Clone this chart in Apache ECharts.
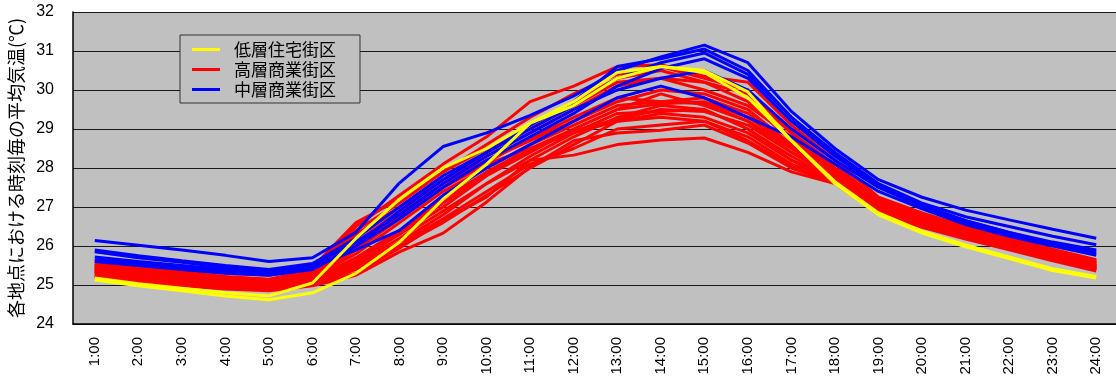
<!DOCTYPE html>
<html>
<head>
<meta charset="utf-8">
<script src="https://cdn.jsdelivr.net/npm/echarts@6/dist/echarts.min.js"></script>
<style>
  html, body { margin: 0; padding: 0; background: #fff; }
  #chart { width: 1116px; height: 381px; }
</style>
</head>
<body>
<div id="chart"></div>
<script>
// 時刻
const hours = ['1:00', '2:00', '3:00', '4:00', '5:00', '6:00', '7:00', '8:00', '9:00', '10:00', '11:00', '12:00',
  '13:00', '14:00', '15:00', '16:00', '17:00', '18:00', '19:00', '20:00', '21:00', '22:00', '23:00', '24:00'];

// 低層住宅街区
const low1 = [25.13, 24.98, 24.85, 24.72, 24.62, 24.80, 25.30, 26.10, 27.20, 28.10, 29.15, 29.60, 30.30, 30.60, 30.50, 29.95, 28.70, 27.60, 26.80, 26.33, 25.98, 25.68, 25.37, 25.18];
const low2 = [25.18, 25.03, 24.92, 24.80, 24.72, 25.05, 26.20, 27.20, 28.00, 28.50, 29.15, 29.70, 30.45, 30.60, 30.45, 29.80, 28.70, 27.65, 26.85, 26.38, 26.03, 25.72, 25.42, 25.22];

// 高層商業街区
const high1 = [25.55, 25.42, 25.32, 25.22, 25.15, 25.38, 26.50, 27.30, 28.10, 28.80, 29.70, 30.10, 30.60, 30.65, 30.35, 30.20, 29.10, 28.20, 27.25, 26.85, 26.50, 26.20, 25.92, 25.65];
const high2 = [25.60, 25.48, 25.38, 25.30, 25.25, 25.45, 26.60, 27.20, 27.90, 28.60, 29.30, 29.90, 30.40, 30.60, 30.30, 30.00, 28.90, 28.00, 27.20, 26.80, 26.45, 26.15, 25.90, 25.62];
const high3 = [25.50, 25.38, 25.28, 25.20, 25.12, 25.30, 26.30, 27.00, 27.70, 28.30, 28.90, 29.50, 30.10, 30.30, 30.20, 29.70, 28.70, 27.90, 27.10, 26.75, 26.42, 26.12, 25.85, 25.58];
const high4 = [25.45, 25.32, 25.22, 25.12, 25.05, 25.25, 26.00, 26.80, 27.60, 28.20, 28.70, 29.20, 29.70, 30.00, 29.90, 29.50, 28.60, 27.85, 27.05, 26.70, 26.38, 26.08, 25.80, 25.55];
const high5 = [25.40, 25.28, 25.18, 25.08, 25.00, 25.20, 25.80, 26.60, 27.40, 28.00, 28.60, 29.10, 29.60, 29.70, 29.65, 29.20, 28.50, 27.80, 27.00, 26.65, 26.35, 26.05, 25.78, 25.50];
const high6 = [25.35, 25.22, 25.12, 25.02, 24.95, 25.12, 25.60, 26.30, 27.00, 27.80, 28.40, 29.00, 29.50, 29.65, 29.70, 29.30, 28.55, 27.75, 26.95, 26.60, 26.30, 26.00, 25.72, 25.45];
const high7 = [25.30, 25.18, 25.08, 24.98, 24.92, 25.05, 25.50, 26.10, 26.80, 27.60, 28.20, 28.80, 29.30, 29.60, 29.50, 29.00, 28.30, 27.70, 26.90, 26.55, 26.25, 25.98, 25.70, 25.42];
const high8 = [25.25, 25.12, 25.02, 24.93, 24.88, 25.00, 25.40, 26.00, 26.60, 27.30, 28.00, 28.60, 29.20, 29.40, 29.30, 28.90, 28.20, 27.65, 26.88, 26.52, 26.22, 25.95, 25.68, 25.40];
const high9 = [25.20, 25.08, 24.98, 24.90, 24.85, 24.98, 25.25, 25.85, 26.33, 27.13, 28.03, 28.70, 28.90, 28.97, 29.10, 28.64, 28.00, 27.62, 26.85, 26.50, 26.20, 25.92, 25.65, 25.38];
const high10 = [25.22, 25.10, 25.00, 24.92, 24.87, 25.00, 25.30, 25.95, 26.65, 27.26, 28.20, 28.33, 28.60, 28.72, 28.77, 28.40, 27.90, 27.60, 26.82, 26.48, 26.18, 25.90, 25.62, 25.36];
const high11 = [25.42, 25.30, 25.20, 25.10, 25.02, 25.22, 25.90, 26.70, 27.50, 28.10, 28.50, 28.90, 29.40, 29.45, 29.50, 29.00, 28.20, 27.70, 26.95, 26.60, 26.30, 26.02, 25.75, 25.48];
const high12 = [25.48, 25.35, 25.25, 25.15, 25.08, 25.28, 26.10, 26.90, 27.70, 28.40, 29.00, 29.60, 30.20, 30.30, 30.00, 29.60, 28.80, 27.95, 27.10, 26.72, 26.40, 26.10, 25.83, 25.56];
const high13 = [25.38, 25.25, 25.15, 25.05, 24.98, 25.15, 25.70, 26.40, 27.20, 27.90, 28.50, 29.00, 29.50, 29.90, 29.60, 29.20, 28.40, 27.80, 27.00, 26.62, 26.32, 26.03, 25.76, 25.50];
const high14 = [25.33, 25.20, 25.10, 25.00, 24.93, 25.08, 25.55, 26.20, 26.90, 27.60, 28.30, 28.90, 29.20, 29.30, 29.20, 28.80, 28.10, 27.70, 26.92, 26.56, 26.26, 25.97, 25.70, 25.44];
const high15 = [25.28, 25.15, 25.05, 24.96, 24.90, 25.02, 25.45, 26.05, 26.70, 27.40, 28.10, 28.50, 29.00, 29.10, 29.20, 28.70, 28.05, 27.65, 26.90, 26.54, 26.24, 25.96, 25.68, 25.42];
const high16 = [25.52, 25.40, 25.30, 25.20, 25.12, 25.32, 26.40, 27.10, 27.90, 28.50, 29.10, 29.70, 30.30, 30.50, 30.20, 29.90, 28.90, 28.10, 27.15, 26.78, 26.45, 26.15, 25.88, 25.60];
const high17 = [25.45, 25.33, 25.22, 25.13, 25.05, 25.25, 25.95, 26.75, 27.50, 28.15, 28.75, 29.30, 29.80, 29.70, 29.80, 29.40, 28.60, 27.90, 27.02, 26.68, 26.36, 26.06, 25.80, 25.52];
const high18 = [25.36, 25.24, 25.14, 25.04, 24.97, 25.14, 25.65, 26.35, 27.10, 27.85, 28.45, 28.95, 29.25, 29.50, 29.45, 29.10, 28.40, 27.75, 26.97, 26.60, 26.30, 26.00, 25.74, 25.47];

// 中層商業街区
const mid1 = [26.14, 26.02, 25.90, 25.76, 25.60, 25.70, 26.35, 27.62, 28.55, 28.90, 29.35, 29.85, 30.50, 30.85, 31.15, 30.70, 29.45, 28.50, 27.70, 27.25, 26.92, 26.67, 26.43, 26.20];
const mid2 = [25.90, 25.75, 25.62, 25.50, 25.40, 25.55, 26.20, 27.00, 27.80, 28.40, 29.00, 29.60, 30.30, 30.70, 30.95, 30.40, 29.30, 28.40, 27.60, 27.10, 26.75, 26.50, 26.25, 26.03];
const mid3 = [25.85, 25.70, 25.58, 25.45, 25.35, 25.50, 26.10, 26.80, 27.60, 28.30, 28.90, 29.50, 30.00, 30.30, 30.50, 30.00, 29.00, 28.20, 27.50, 27.00, 26.60, 26.30, 26.05, 25.80];
const mid4 = [25.72, 25.60, 25.50, 25.40, 25.30, 25.45, 25.90, 26.40, 27.30, 28.00, 28.60, 29.20, 29.80, 30.10, 29.80, 29.30, 28.80, 28.10, 27.40, 26.95, 26.55, 26.25, 26.00, 25.76];
const mid5 = [25.65, 25.55, 25.45, 25.35, 25.28, 25.42, 26.00, 26.70, 27.50, 28.20, 28.80, 29.40, 30.10, 30.55, 30.80, 30.30, 29.20, 28.30, 27.55, 27.05, 26.65, 26.35, 26.10, 25.90];
const mid6 = [25.60, 25.50, 25.40, 25.30, 25.25, 25.40, 26.00, 26.90, 27.70, 28.40, 29.10, 29.70, 30.60, 30.80, 31.05, 30.50, 29.30, 28.35, 27.55, 27.00, 26.65, 26.35, 26.05, 25.85];

const highLines = [high1, high2, high3, high4, high5, high6, high7, high8, high9,
  high10, high11, high12, high13, high14, high15, high16, high17, high18];
const midLines = [mid1, mid2, mid3, mid4, mid5, mid6];
const lowLines = [low1, low2];

const LOW = '低層住宅街区';
const HIGH = '高層商業街区';
const MID = '中層商業街区';

function makeLine(name, color, data) {
  return {
    name: name,
    type: 'line',
    data: data,
    symbol: 'none',
    color: color,
    lineStyle: { width: 3, color: color },
    emphasis: { disabled: true },
    animation: false
  };
}

const series = [];
highLines.forEach(d => series.push(makeLine(HIGH, '#ff0000', d)));
midLines.forEach(d => series.push(makeLine(MID, '#0000ff', d)));
lowLines.forEach(d => series.push(makeLine(LOW, '#ffff00', d)));

const chart = echarts.init(document.getElementById('chart'), null, { renderer: 'canvas' });

const option = {
  backgroundColor: '#ffffff',
  animation: false,
  textStyle: { fontFamily: 'Liberation Sans, Arial, "Noto Sans CJK JP", sans-serif' },
  grid: {
    left: 73,
    right: -2,
    top: 12,
    bottom: 57,
    containLabel: false,
    outerBoundsMode: 'none',
    show: true,
    backgroundColor: '#c0c0c0',
    borderWidth: 0
  },
  legend: {
    data: [LOW, HIGH, MID],
    orient: 'vertical',
    left: 180,
    top: 35,
    icon: 'rect',
    itemWidth: 28,
    itemHeight: 3,
    itemGap: 3,
    padding: [6, 24, 5, 12],
    backgroundColor: '#c0c0c0',
    borderColor: '#333333',
    borderWidth: 1,
    selectedMode: false,
    textStyle: {
      fontFamily: '"Noto Sans CJK JP", sans-serif',
      fontSize: 17,
      lineHeight: 17,
      color: '#000',
      padding: [0, 0, 0, 9]
    }
  },
  xAxis: {
    type: 'category',
    data: hours,
    boundaryGap: true,
    axisLine: { lineStyle: { color: '#000', width: 1.5 } },
    axisTick: { inside: true, length: 6, lineStyle: { color: '#000' } },
    axisLabel: {
      rotate: 90,
      margin: 13,
      fontSize: 15,
      color: '#000',
      fontFamily: 'Liberation Sans, Arial, sans-serif'
    },
    splitLine: { show: false }
  },
  yAxis: {
    type: 'value',
    min: 24,
    max: 32,
    interval: 1,
    name: '各地点における時刻毎の平均気温(℃)',
    nameLocation: 'middle',
    nameRotate: 90,
    nameGap: 44,
    nameTextStyle: {
      fontFamily: '"Noto Sans CJK JP", sans-serif',
      fontSize: 18,
      color: '#000'
    },
    axisLine: { show: true, lineStyle: { color: '#000', width: 1.5 } },
    axisTick: { show: false },
    axisLabel: {
      margin: 19,
      fontSize: 16,
      color: '#000',
      fontFamily: 'Liberation Sans, Arial, sans-serif'
    },
    splitLine: { show: true, lineStyle: { color: '#1a1a1a', width: 1 } }
  },
  series: series
};

chart.setOption(option);
</script>
</body>
</html>
